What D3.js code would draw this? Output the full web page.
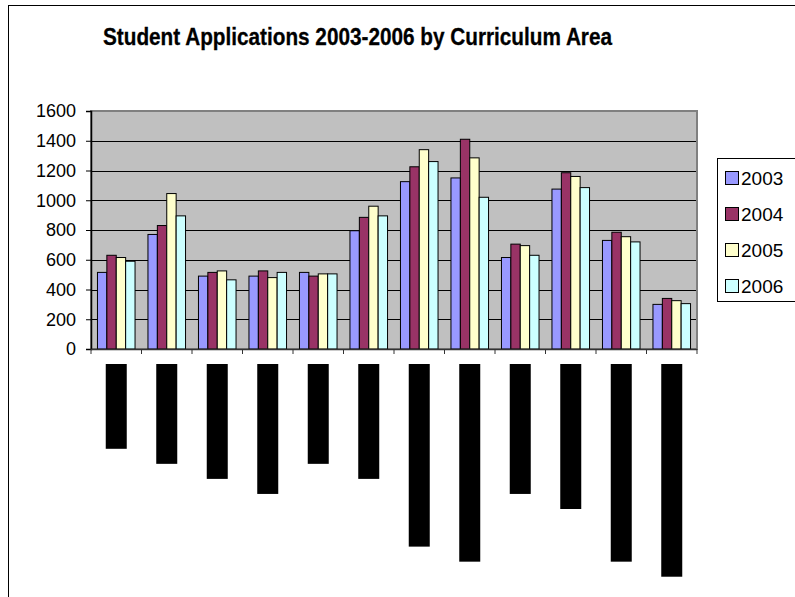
<!DOCTYPE html>
<html lang="en">
<head>
<meta http-equiv="content-type" content="text/html; charset=UTF-8">
    <script src="https://d3js.org/d3.v7.min.js"></script>
    <style>
        body { margin: 0; background: #fff; }
        #plot { position: absolute; width: 795px; height: 597px; }
    </style>
</head>
<body>
    <div id="plot"></div>
    <script>
        // curriculum areas (labels come out as solid black blocks in the original)
        const categories = ["Agriculture", "Sport Science", "Hair and Beauty", "Computing and ICT",
            "Media Studies", "Performing Arts", "Languages and Literature", "Engineering and Technology",
            "Science and Maths", "Leisure and Tourism", "Health, Care and Childcare", "Art, Design and Visual Media"];
        const years = ["2003", "2004", "2005", "2006"];
        const apps2003 = [515, 770, 490, 490, 515, 795, 1125, 1150, 615, 1075, 730, 300];
        const apps2004 = [630, 830, 515, 525, 490, 885, 1225, 1410, 705, 1185, 785, 340];
        const apps2005 = [615, 1045, 525, 480, 505, 960, 1340, 1285, 695, 1160, 755, 325];
        const apps2006 = [590, 895, 465, 515, 505, 895, 1260, 1020, 630, 1085, 720, 305];
        const yTicks = [0, 200, 400, 600, 800, 1000, 1200, 1400, 1600];
        const colors = ["#9999ff", "#993366", "#ffffcc", "#ccffff"];

        function barChart() {
            const series = [apps2003, apps2004, apps2005, apps2006];
            const font = "'Liberation Sans', Arial, sans-serif";

            const svg = d3.select("#plot").append("svg")
                .attr("width", 795)
                .attr("height", 597);

            // chart area border (runs off the right and bottom)
            svg.append("rect")
                .attr("x", 8.5).attr("y", 5.5)
                .attr("width", 800).attr("height", 600)
                .attr("fill", "#fff").attr("stroke", "#000");

            svg.append("text")
                .attr("x", 103).attr("y", 45)
                .attr("textLength", 509)
                .attr("lengthAdjust", "spacingAndGlyphs")
                .style("font-family", font)
                .style("font-weight", "bold")
                .style("font-size", "24px")
                .attr("stroke", "#000")
                .attr("stroke-width", 0.3)
                .text("Student Applications 2003-2006 by Curriculum Area");

            const plot = {left: 91, right: 697, top: 111, bottom: 349};

            const x0 = d3.scaleBand()
                .domain(categories)
                .range([plot.left, plot.right])
                .padding(0);
            const gap = x0.bandwidth() * 0.128;
            const x1 = d3.scaleBand()
                .domain(years)
                .range([gap, x0.bandwidth() - gap]);
            const y = d3.scaleLinear()
                .domain([0, 1600])
                .range([plot.bottom, plot.top]);

            // plot background
            svg.append("rect")
                .attr("x", plot.left).attr("y", plot.top)
                .attr("width", plot.right - plot.left)
                .attr("height", plot.bottom - plot.top)
                .attr("fill", "#c0c0c0")
                .attr("stroke", "#808080")
                .attr("stroke-width", 2);

            // gridlines
            svg.append("g").selectAll("line")
                .data(yTicks.slice(1, -1))
                .join("line")
                    .attr("x1", plot.left).attr("x2", plot.right - 1)
                    .attr("y1", d => Math.round(y(d)) + 0.5)
                    .attr("y2", d => Math.round(y(d)) + 0.5)
                    .attr("stroke", "#000");

            // bars
            const groups = svg.append("g").selectAll("g")
                .data(categories)
                .join("g")
                    .attr("transform", d => `translate(${x0(d)},0)`);
            groups.selectAll("rect")
                .data((d, i) => years.map((yr, j) => ({yr, j, v: series[j][i]})))
                .join("rect")
                    .attr("x", d => x1(d.yr))
                    .attr("y", d => y(d.v))
                    .attr("width", x1.bandwidth())
                    .attr("height", d => y(0) - y(d.v))
                    .attr("fill", d => colors[d.j])
                    .attr("stroke", "#000")
                    .attr("stroke-width", 1);

            // y axis
            const yAxis = d3.axisLeft(y)
                .tickValues(yTicks)
                .tickFormat(d3.format("d"))
                .tickSize(5)
                .tickPadding(10);
            svg.append("g")
                .attr("transform", `translate(${plot.left},0)`)
                .call(yAxis)
                .call(g => g.select(".domain").attr("stroke", "#000").attr("stroke-width", 1.5))
                .call(g => g.selectAll("text")
                    .style("font-family", font)
                    .style("font-size", "18px")
                    .attr("fill", "#000"));

            // x axis: line and ticks at category boundaries
            const xg = svg.append("g");
            xg.append("line")
                .attr("x1", plot.left).attr("x2", plot.right)
                .attr("y1", plot.bottom + 0.5).attr("y2", plot.bottom + 0.5)
                .attr("stroke", "#333").attr("stroke-width", 1.5);
            xg.selectAll("line.tick")
                .data(categories.map(c => x0(c)).concat([plot.right]))
                .join("line")
                    .attr("class", "tick")
                    .attr("x1", d => d).attr("x2", d => d)
                    .attr("y1", plot.bottom).attr("y2", plot.bottom + 5)
                    .attr("stroke", "#333");

            // category labels, rotated, drawn as black blocks
            const labels = svg.append("g").selectAll("g")
                .data(categories)
                .join("g")
                    .attr("transform", d => `translate(${x0(d) + x0.bandwidth() / 2},364) rotate(90)`);
            labels.append("text")
                .attr("x", 1)
                .attr("dominant-baseline", "central")
                .style("font-family", "'DejaVu Sans Mono', monospace")
                .style("font-size", "12.5px")
                .attr("fill", "#000")
                .text(d => d);
            labels.insert("rect", "text")
                .attr("x", 0).attr("y", -10.5)
                .attr("height", 21)
                .attr("width", function() {
                    return this.parentNode.querySelector("text").getComputedTextLength() + 2;
                })
                .attr("fill", "#000");

            // legend
            const legend = svg.append("g");
            legend.append("rect")
                .attr("x", 717.5).attr("y", 158.5)
                .attr("width", 100).attr("height", 143)
                .attr("fill", "#fff").attr("stroke", "#000");
            const items = legend.selectAll("g")
                .data(years)
                .join("g")
                    .attr("transform", (d, i) => `translate(725,${178 + i * 36})`);
            items.append("rect")
                .attr("x", 0.5).attr("y", -6.5)
                .attr("width", 13).attr("height", 13)
                .attr("fill", (d, i) => colors[i])
                .attr("stroke", "#000");
            items.append("text")
                .attr("x", 16)
                .attr("dominant-baseline", "central")
                .style("font-family", font)
                .style("font-size", "19px")
                .text(d => d);
        }

        function init() {
            barChart();
        }

        window.onload = init;
    </script>
</body>
</html>
